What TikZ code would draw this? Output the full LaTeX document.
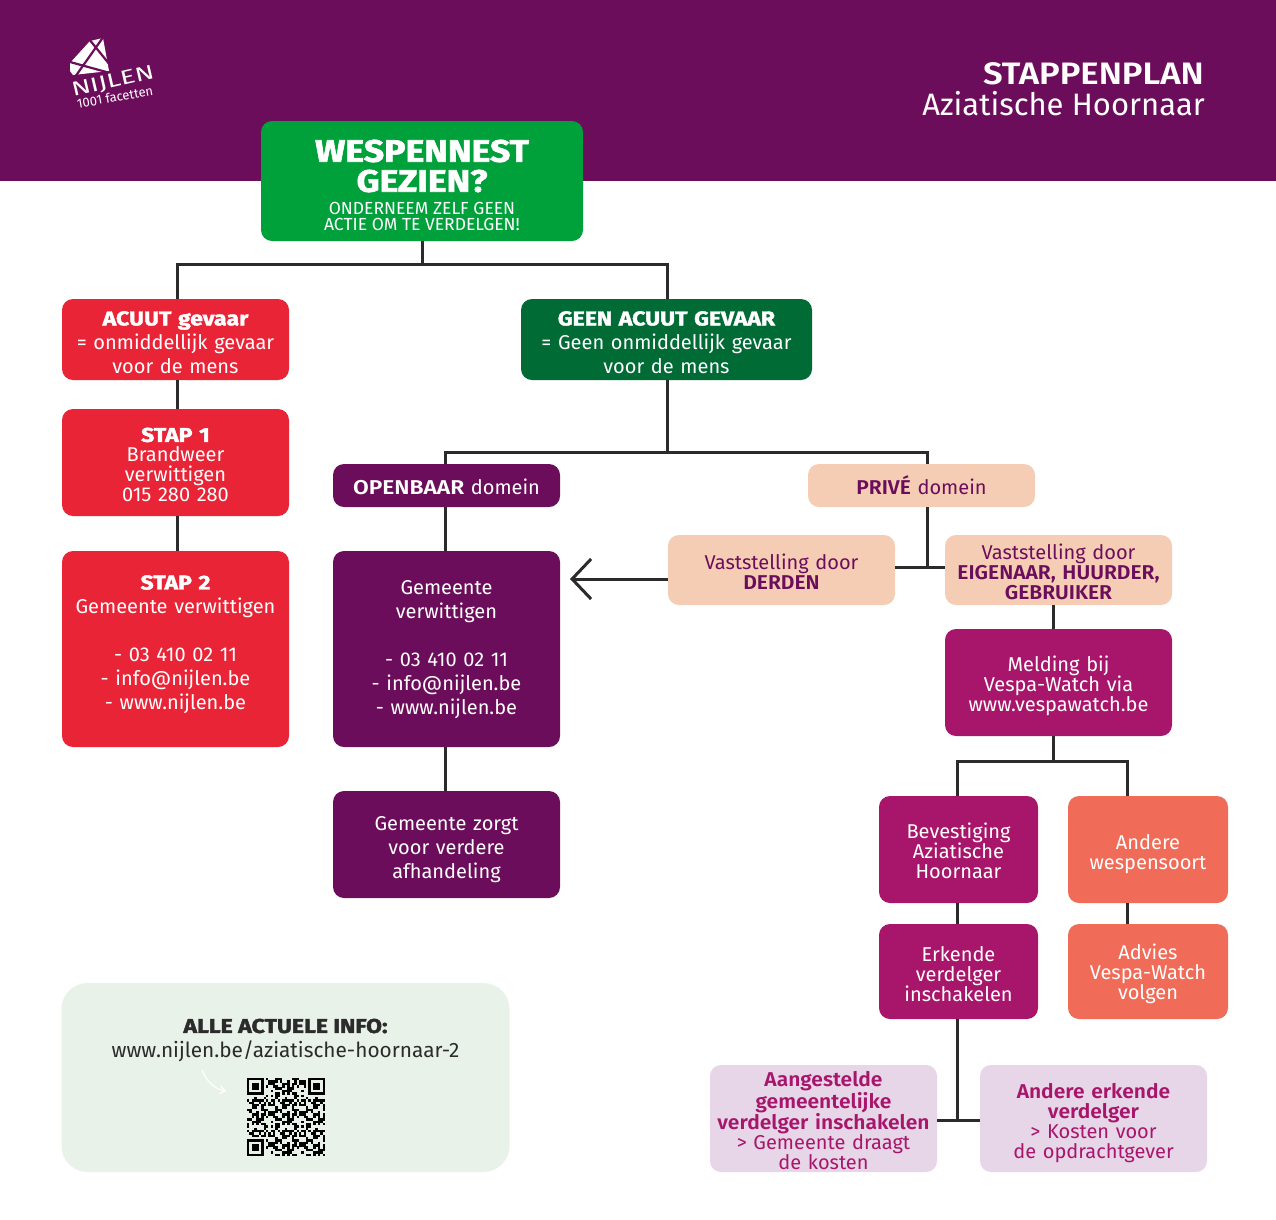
\documentclass[tikz,border=0pt]{standalone}
\usepackage{fontspec}
\usetikzlibrary{arrows.meta,calc}
\setmainfont{Fira Sans}
\newfontfamily\heavyf[FakeBold=2,FakeStretch=1.15]{Fira Sans}[BoldFont={},UprightFont=*-Bold]
\newfontfamily\boldf[FakeStretch=1.05]{Fira Sans}[UprightFont=*-SemiBold]
\newfontfamily\boldw[FakeStretch=1.14]{Fira Sans}[UprightFont=*-SemiBold]
\newfontfamily\titlef[FakeStretch=1.12]{Fira Sans}[UprightFont=*-SemiBold]
\newfontfamily\logof[FakeStretch=1.4]{Fira Sans}
\definecolor{plum}{HTML}{6C0D5B}
\definecolor{gr}{HTML}{00A03B}
\definecolor{dgr}{HTML}{006B35}
\definecolor{rd}{HTML}{E92436}
\definecolor{peach}{HTML}{F5CDB4}
\definecolor{mag}{HTML}{A8166B}
\definecolor{sal}{HTML}{F06B58}
\definecolor{lil}{HTML}{E7D5E8}
\definecolor{pale}{HTML}{E9F2E8}
\definecolor{ln}{HTML}{2B2B2B}
\AtBeginDocument{\lineskiplimit=-50pt\relax}
\tikzset{
 x=1pt,y=-1pt,
 bx/.style n args={3}{rounded corners=11pt,minimum width=#1pt,minimum height=#2pt,text width=#1pt-8pt,align=center,inner sep=0pt,fill=#3,font=\fontsize{20}{24}\selectfont},
 wt/.style={text=white},
 pt/.style={text=plum},
 cn/.style={draw=ln,line width=3pt},
 dn/.style={execute at begin node={\rule{0pt}{\dimexpr 15pt+#1pt\relax}}},
 up/.style={execute at end node={\par\vspace*{#1pt}}},
 tight/.style={font=\fontsize{20}{20}\selectfont},
}
\newcommand{\hvy}[1]{{\heavyf #1}}
\newcount\qrn
\begin{document}
\begin{tikzpicture}
\useasboundingbox (0,0) rectangle (1276,1219);
\fill[plum] (0,0) rectangle (1276,181);
% logo
\fill[white] (90,41) -- (103,38) -- (109,71) -- (73,75) -- (70,71) -- (70,63) -- cycle;
\draw[plum,line width=2.2pt] (70,62) -- (110,73) (89,39) -- (110,65) (104,36) -- (75,77);
\node[text=white,rotate=13,inner sep=0pt,font=\fontsize{20}{20}\selectfont\logof] (logoa) at (113,82) {NIJLEN};
\node[text=white,rotate=10,inner sep=0pt,font=\fontsize{13}{13}\selectfont] (logob) at (115,97) {1001 facetten};
\node[text=white,anchor=east,inner sep=0pt,font=\fontsize{31}{31}\selectfont\titlef] (title) at (1204,74) {STAPPENPLAN};
\node[text=white,anchor=east,inner sep=0pt,font=\fontsize{31}{31}\selectfont] (subtitle) at (1205,104) {Aziatische Hoornaar};

\node[bx={322}{120}{gr},wt] (top) at (422,181) {};
\node[wt,align=center,inner sep=0pt,font=\fontsize{31}{30}\selectfont\heavyf] (topa) at (422,166) {WESPENNEST\\GEZIEN?};
\node[wt,align=center,inner sep=0pt,font=\fontsize{17.5}{16}\selectfont] (topb) at (422,216.5) {ONDERNEEM ZELF GEEN\\ACTIE OM TE VERDELGEN!};

\node[bx={227}{81}{rd},wt,dn=5] (acuut) at (175.5,339.5) {\hvy{ACUUT gevaar}\\= onmiddellijk gevaar\\voor de mens};
\node[bx={291}{81}{dgr},wt,dn=5] (geen) at (666.5,339.5) {\hvy{GEEN ACUUT GEVAAR}\\= Geen onmiddellijk gevaar\\voor de mens};
\node[bx={227}{107}{rd},wt,tight,dn=4] (stap1) at (175.5,462.5) {\hvy{STAP 1}\\Brandweer\\verwittigen\\015 280 280};
\node[bx={227}{196}{rd},wt,up=9] (stap2) at (175.5,649) {\hvy{STAP 2}\\Gemeente verwittigen\\[24pt]- 03 410 02 11\\- info@nijlen.be\\- www.nijlen.be};
\node[bx={227}{43}{plum},wt,dn=4] (open) at (446.5,485.5) {{\boldw OPENBAAR} domein};
\node[bx={227}{196}{plum},wt,dn=0] (gem) at (446.5,649) {Gemeente\\verwittigen\\[24pt]- 03 410 02 11\\- info@nijlen.be\\- www.nijlen.be};
\node[bx={227}{107}{plum},wt,dn=10] (zorgt) at (446.5,844.5) {Gemeente zorgt\\voor verdere\\afhandeling};
\node[bx={227}{43}{peach},pt,dn=2] (prive) at (921.5,485.5) {{\boldf PRIVÉ} domein};
\node[bx={227}{70}{peach},pt,tight,dn=4] (derden) at (781.5,570) {Vaststelling door\\{\boldf DERDEN}};
\node[bx={227}{70}{peach},pt,tight,dn=4] (eig) at (1058.5,570) {Vaststelling door\\{\boldf EIGENAAR, HUURDER,\\GEBRUIKER}};
\node[bx={227}{107}{mag},wt,tight,dn=8] (meld) at (1058.5,682.5) {Melding bij\\Vespa-Watch via\\www.vespawatch.be};
\node[bx={159}{107}{mag},wt,tight,dn=4] (bev) at (958.5,849.5) {Bevestiging\\Aziatische\\Hoornaar};
\node[bx={160}{107}{sal},wt,tight,dn=10] (and) at (1148,849.5) {Andere\\wespensoort};
\node[bx={159}{95}{mag},wt,tight,dn=6] (erk) at (958.5,971.5) {Erkende\\verdelger\\inschakelen};
\node[bx={160}{95}{sal},wt,tight,dn=6] (adv) at (1148,971.5) {Advies\\Vespa-Watch\\volgen};
\node[bx={227}{107}{lil},text=mag,tight,dn=5] (aan) at (823.5,1118.5) {{\boldf Aangestelde\\gemeentelijke\\verdelger inschakelen}\\> Gemeente draagt\\de kosten};
\node[bx={227}{107}{lil},text=mag,tight,dn=10] (ande) at (1093.5,1118.5) {{\boldf Andere erkende\\verdelger}\\> Kosten voor\\de opdrachtgever};

\node[rounded corners=26pt,fill=pale,minimum width=448pt,minimum height=189pt,inner sep=0pt] (info) at (285.5,1077.5) {};
\node[text=ln,inner sep=0pt,font=\fontsize{20}{20}\selectfont] (infoa) at (285.5,1026) {\hvy{ALLE ACTUELE INFO:}};
\node[text=ln,inner sep=0pt,font=\fontsize{20.8}{20}\selectfont] (infob) at (285.5,1051) {www.nijlen.be/aziatische-hoornaar-2};
\draw[white,line width=1.2pt,-{Straight Barb[length=5pt,width=8pt]}] (202,1070) .. controls (207,1082) and (215,1089) .. (226,1091);
% QR
\begin{scope}[shift={(247,1078)},x=2.36pt,y=-2.36pt]
\foreach \i in {0,...,32}{\foreach \j in {0,...,32}{
 \qrn=\numexpr \i*\i*\j+7*\i*\j*\j+11*\i+5*\j*\j+3\relax
 \qrn=\numexpr \qrn-13*((\qrn-6)/13)\relax
 \ifnum\qrn<6 \fill[black] (\i,\j) rectangle ++(1.03,1.03);\fi
}}
\foreach \a/\b in {0/0,25/0,0/25}{
 \fill[pale] (\a,\b) rectangle ++(8,8);}
\foreach \a/\b in {0/0,26/0,0/26}{
 \draw[black,line width=2.36pt] (\a+.5,\b+.5) rectangle (\a+6.5,\b+6.5);
 \fill[black] (\a+2,\b+2) rectangle (\a+5,\b+5);}
\end{scope}

% connectors
\coordinate (j1) at (422,264);
\coordinate (j1l) at (177,264);
\coordinate (j1r) at (667,264);
\draw[cn] (top.south -| j1) -- (j1);
\draw[cn] (acuut.north -| j1l) -- (j1l) -- (j1r) -- (geen.north -| j1r);
\draw[cn] (acuut.south -| j1l) -- (stap1.north -| j1l);
\draw[cn] (stap1.south -| j1l) -- (stap2.north -| j1l);
\coordinate (j2) at (667,452);
\coordinate (j2l) at (445,452);
\coordinate (j2r) at (927,452);
\draw[cn] (geen.south -| j2) -- (j2);
\draw[cn] (open.north -| j2l) -- (j2l) -- (j2r) -- (prive.north -| j2r);
\draw[cn] (open.south -| j2l) -- (gem.north -| j2l);
\draw[cn] (gem.south -| j2l) -- (zorgt.north -| j2l);
\coordinate (j3) at (927,567);
\draw[cn] (prive.south -| j3) -- (j3);
\draw[cn] (derden.east |- j3) -- (eig.west |- j3);
\coordinate (arr) at (570,579);
\draw[cn,-{Straight Barb[length=19pt,width=40pt,line width=3pt]}] (derden.west |- arr) -- (arr);
\coordinate (j4) at (1053,761);
\coordinate (j4l) at (957,761);
\coordinate (j4r) at (1127,761);
\draw[cn] (eig.south -| j4) -- (meld.north -| j4);
\draw[cn] (meld.south -| j4) -- (j4);
\draw[cn] (bev.north -| j4l) -- (j4l) -- (j4r) -- (and.north -| j4r);
\draw[cn] (bev.south -| j4l) -- (erk.north -| j4l);
\draw[cn] (and.south -| j4r) -- (adv.north -| j4r);
\coordinate (j5) at (957,1120);
\draw[cn] (erk.south -| j5) -- (j5);
\draw[cn] (aan.east |- j5) -- (ande.west |- j5);
\end{tikzpicture}
\end{document}
